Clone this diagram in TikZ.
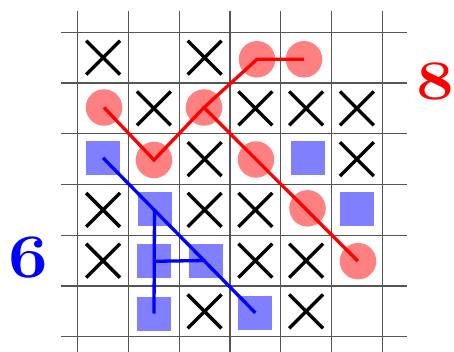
\documentclass[tikz,border=0pt]{standalone}
\usetikzlibrary{shapes.misc}
\definecolor{gridc}{HTML}{555555}
\definecolor{redfill}{HTML}{FF8080}
\definecolor{bluefill}{HTML}{8080FF}
\begin{document}
\begin{tikzpicture}[x=1pt,y=-1pt,
  gridline/.style={draw=gridc,line width=1.2pt},
  xmark/.style={cross out,draw=black,line width=3.4pt,minimum size=30.5pt,inner sep=0pt},
  redmark/.style={circle,fill=redfill,minimum size=36.5pt,inner sep=0pt},
  bluemark/.style={rectangle,fill=bluefill,minimum size=34pt,inner sep=0pt},
  redline/.style={draw=red,line width=3.3pt},
  blueline/.style={draw=blue,line width=3.3pt},
  biglabel/.style={font=\bfseries\fontsize{#1}{#1}\selectfont,inner sep=0pt}]
\useasboundingbox (0,0) rectangle (454,352);
% grid
\foreach \k in {0,...,6}{
  \draw[gridline] ({77.7+50.75*\k},11) -- ({77.7+50.75*\k},352);
  \draw[gridline] (61,{32.3+50.75*\k}) -- (406.5,{32.3+50.75*\k});
}
% crosses
\foreach \r/\c in {0/0,0/2,1/1,1/3,1/4,1/5,2/2,2/5,3/0,3/2,3/3,4/0,4/3,4/4,5/2,5/4}{
  \node[xmark] (x\r\c) at ({103.1+50.75*\c},{57.7+50.75*\r}) {};
}
% red circles
\node[redmark] (r10) at (104,107.5) {};
\node[redmark] (r21) at (154,160) {};
\node[redmark] (r12) at (204,107.5) {};
\node[redmark] (r03) at (257,59.3) {};
\node[redmark] (r04) at (304,59.3) {};
\node[redmark] (r23) at (256,159.5) {};
\node[redmark] (r34) at (307.5,208.3) {};
\node[redmark] (r45) at (358,261.2) {};
% blue squares
\node[bluemark] (b20) at (103,157.8) {};
\node[bluemark] (b24) at (308.3,157.7) {};
\node[bluemark] (b35) at (357,208.7) {};
\node[bluemark] (b31) at (154.5,208.8) {};
\node[bluemark] (b41) at (154,261.3) {};
\node[bluemark] (b42) at (205.8,260.5) {};
\node[bluemark] (b51) at (154,313.5) {};
\node[bluemark] (b53) at (255.3,312.8) {};
% red connectors
\draw[redline] (r10.center) -- (r21.center) -- (r12.center) -- (r03.center) -- (r04.center);
\draw[redline] (r12.center) -- (r45.center);
% blue connectors
\draw[blueline] (b20.center) -- (b53.center);
\draw[blueline] (b31.center) -- (b51.center);
\draw[blueline] (b41.center) -- (b42.center);
% labels
\node[biglabel=56,text=red,xscale=1.2] (eight) at (435,81.5) {8};
\node[biglabel=62,text=blue,xscale=1.14] (six) at (28.5,257.5) {6};
\end{tikzpicture}
\end{document}
